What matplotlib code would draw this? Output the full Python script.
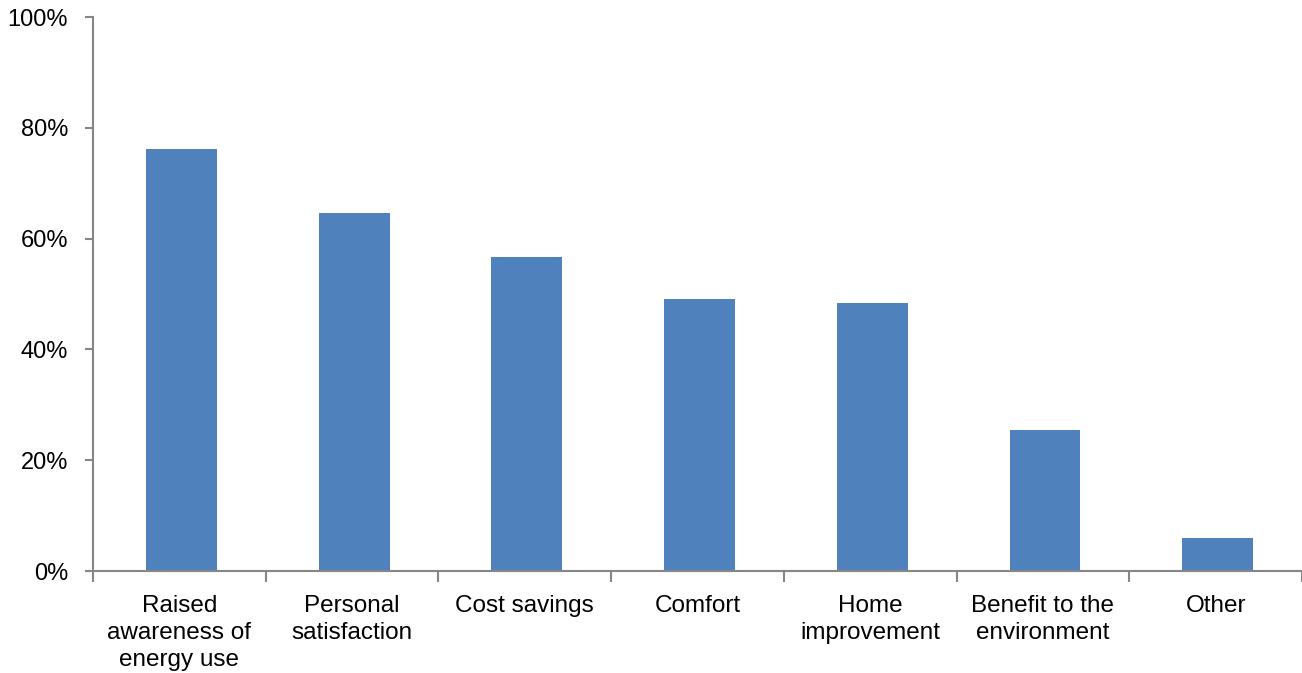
import numpy as np
import matplotlib.pyplot as plt
from matplotlib.ticker import PercentFormatter, FixedLocator

# survey results: share of respondents citing each benefit
categories = ["Raised\nawareness of\nenergy use", "Personal\nsatisfaction", "Cost savings",
              "Comfort", "Home\nimprovement", "Benefit to the\nenvironment", "Other"]
shares = [76.2, 64.6, 56.7, 49.1, 48.4, 25.5, 6.0]

plt.rcParams['font.family'] = ['Liberation Sans', 'DejaVu Sans']

fig = plt.figure(figsize=(13.02, 6.73), dpi=100)
ax = fig.add_axes([93/1302, 102/673, 1 - 93/1302, 554/673])

x = np.arange(len(categories))
ax.bar(x + 0.012, shares, width=0.41, color="#4F81BD", zorder=2)

ax.set_xlim(-0.5, len(categories) - 0.5)
ax.set_ylim(0, 100)
ax.yaxis.set_major_formatter(PercentFormatter(decimals=0))
ax.set_yticks(np.arange(0, 101, 20))

# category labels centred under bars, tick marks between categories
ax.set_xticks(x)
ax.set_xticklabels(categories, fontsize=17.5, linespacing=1.32, va="top")
ax.xaxis.set_minor_locator(FixedLocator(np.arange(-0.5, len(categories), 1.0)))
ax.tick_params(axis="x", which="major", length=0, pad=17)
ax.tick_params(axis="x", which="minor", length=8, width=1.5, color="#868686", direction="out")
ax.tick_params(axis="y", length=6, width=1.5, color="#868686", labelsize=17, pad=12)

for side in ("top", "right"):
    ax.spines[side].set_visible(False)
for side in ("left", "bottom"):
    ax.spines[side].set_color("#868686")
    ax.spines[side].set_linewidth(1.5)

fig.savefig("out.png", dpi=100)
